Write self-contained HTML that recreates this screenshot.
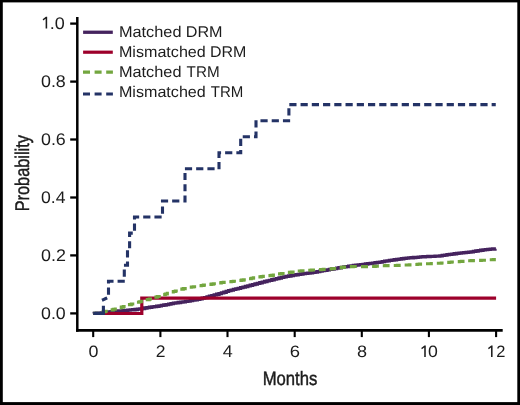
<!DOCTYPE html>
<html>
<head>
<meta charset="utf-8">
<title>Chart</title>
<style>
html,body{margin:0;padding:0;background:#000;}
body{width:520px;height:405px;overflow:hidden;font-family:"Liberation Sans",sans-serif;}
svg{display:block;will-change:transform;}
text{font-family:"Liberation Sans",sans-serif;fill:#1c1c1c;text-rendering:geometricPrecision;}
</style>
</head>
<body>
<svg width="520" height="405" viewBox="0 0 520 405">
  <rect x="0" y="0" width="520" height="405" fill="#000"/>
  <rect x="2.8" y="2.4" width="514.5" height="399.7" fill="#fff"/>

  <g fill="none" stroke-width="3.1" stroke-linejoin="miter">
    <path stroke="#45235e" stroke-width="3.3" d="M93.20,313.40 L94.20,313.40 L94.20,313.36 L96.60,313.36 L96.60,313.25 L99.00,313.25 L99.00,313.14 L101.40,313.14 L101.40,312.93 L103.80,312.93 L103.80,312.64 L106.20,312.64 L106.20,312.33 L108.60,312.33 L108.60,312.00 L111.00,312.00 L111.00,311.67 L113.40,311.67 L113.40,311.42 L115.80,311.42 L115.80,311.20 L118.20,311.20 L118.20,310.99 L120.60,310.99 L120.60,310.83 L123.00,310.83 L123.00,310.67 L125.40,310.67 L125.40,310.46 L127.80,310.46 L127.80,310.21 L130.20,310.21 L130.20,309.97 L132.60,309.97 L132.60,309.73 L135.00,309.73 L135.00,309.48 L137.40,309.48 L137.40,309.19 L139.80,309.19 L139.80,308.88 L142.20,308.88 L142.20,308.53 L144.60,308.53 L144.60,308.01 L147.00,308.01 L147.00,307.57 L149.40,307.57 L149.40,307.25 L151.80,307.25 L151.80,306.93 L154.20,306.93 L154.20,306.59 L156.60,306.59 L156.60,306.24 L159.00,306.24 L159.00,305.90 L161.40,305.90 L161.40,305.46 L163.80,305.46 L163.80,305.02 L166.20,305.02 L166.20,304.56 L168.60,304.56 L168.60,304.08 L171.00,304.08 L171.00,303.60 L173.40,303.60 L173.40,303.20 L175.80,303.20 L175.80,302.84 L178.20,302.84 L178.20,302.49 L180.60,302.49 L180.60,302.14 L183.00,302.14 L183.00,301.79 L185.40,301.79 L185.40,301.43 L187.80,301.43 L187.80,301.03 L190.20,301.03 L190.20,300.62 L192.60,300.62 L192.60,300.21 L195.00,300.21 L195.00,299.81 L197.40,299.81 L197.40,299.40 L199.80,299.40 L199.80,298.83 L202.20,298.83 L202.20,298.21 L204.60,298.21 L204.60,297.55 L207.00,297.55 L207.00,296.87 L209.40,296.87 L209.40,296.20 L211.80,296.20 L211.80,295.55 L214.20,295.55 L214.20,294.89 L216.60,294.89 L216.60,294.23 L219.00,294.23 L219.00,293.57 L221.40,293.57 L221.40,292.91 L223.80,292.91 L223.80,292.25 L226.20,292.25 L226.20,291.43 L228.60,291.43 L228.60,290.65 L231.00,290.65 L231.00,290.06 L233.40,290.06 L233.40,289.47 L235.80,289.47 L235.80,288.88 L238.20,288.88 L238.20,288.29 L240.60,288.29 L240.60,287.70 L243.00,287.70 L243.00,287.09 L245.40,287.09 L245.40,286.48 L247.80,286.48 L247.80,285.86 L250.20,285.86 L250.20,285.25 L252.60,285.25 L252.60,284.62 L255.00,284.62 L255.00,283.99 L257.40,283.99 L257.40,283.36 L259.80,283.36 L259.80,282.74 L262.20,282.74 L262.20,282.11 L264.60,282.11 L264.60,281.51 L267.00,281.51 L267.00,280.92 L269.40,280.92 L269.40,280.32 L271.80,280.32 L271.80,279.73 L274.20,279.73 L274.20,279.14 L276.60,279.14 L276.60,278.56 L279.00,278.56 L279.00,278.01 L281.40,278.01 L281.40,277.45 L283.80,277.45 L283.80,276.94 L286.20,276.94 L286.20,276.46 L288.60,276.46 L288.60,275.98 L291.00,275.98 L291.00,275.56 L293.40,275.56 L293.40,275.16 L295.80,275.16 L295.80,274.75 L298.20,274.75 L298.20,274.38 L300.60,274.38 L300.60,274.02 L303.00,274.02 L303.00,273.68 L305.40,273.68 L305.40,273.38 L307.80,273.38 L307.80,273.09 L310.20,273.09 L310.20,272.74 L312.60,272.74 L312.60,272.37 L315.00,272.37 L315.00,272.00 L317.40,272.00 L317.40,271.56 L319.80,271.56 L319.80,271.11 L322.20,271.11 L322.20,270.68 L324.60,270.68 L324.60,270.28 L327.00,270.28 L327.00,269.87 L329.40,269.87 L329.40,269.44 L331.80,269.44 L331.80,269.00 L334.20,269.00 L334.20,268.56 L336.60,268.56 L336.60,268.14 L339.00,268.14 L339.00,267.74 L341.40,267.74 L341.40,267.34 L343.80,267.34 L343.80,266.97 L346.20,266.97 L346.20,266.60 L348.60,266.60 L348.60,266.23 L351.00,266.23 L351.00,265.86 L353.40,265.86 L353.40,265.49 L355.80,265.49 L355.80,265.18 L358.20,265.18 L358.20,264.88 L360.60,264.88 L360.60,264.59 L363.00,264.59 L363.00,264.29 L365.40,264.29 L365.40,264.00 L367.80,264.00 L367.80,263.70 L370.20,263.70 L370.20,263.41 L372.60,263.41 L372.60,263.11 L375.00,263.11 L375.00,262.77 L377.40,262.77 L377.40,262.40 L379.80,262.40 L379.80,262.03 L382.20,262.03 L382.20,261.63 L384.60,261.63 L384.60,261.22 L387.00,261.22 L387.00,260.82 L389.40,260.82 L389.40,260.45 L391.80,260.45 L391.80,260.08 L394.20,260.08 L394.20,259.73 L396.60,259.73 L396.60,259.40 L399.00,259.40 L399.00,259.07 L401.40,259.07 L401.40,258.77 L403.80,258.77 L403.80,258.47 L406.20,258.47 L406.20,258.18 L408.60,258.18 L408.60,257.96 L411.00,257.96 L411.00,257.74 L413.40,257.74 L413.40,257.52 L415.80,257.52 L415.80,257.30 L418.20,257.30 L418.20,257.07 L420.60,257.07 L420.60,256.90 L423.00,256.90 L423.00,256.75 L425.40,256.75 L425.40,256.61 L427.80,256.61 L427.80,256.49 L430.20,256.49 L430.20,256.38 L432.60,256.38 L432.60,256.28 L435.00,256.28 L435.00,256.20 L437.40,256.20 L437.40,256.13 L439.80,256.13 L439.80,255.85 L442.20,255.85 L442.20,255.46 L444.60,255.46 L444.60,255.07 L447.00,255.07 L447.00,254.72 L449.40,254.72 L449.40,254.39 L451.80,254.39 L451.80,254.06 L454.20,254.06 L454.20,253.73 L456.60,253.73 L456.60,253.39 L459.00,253.39 L459.00,253.09 L461.40,253.09 L461.40,252.83 L463.80,252.83 L463.80,252.58 L466.20,252.58 L466.20,252.32 L468.60,252.32 L468.60,252.06 L471.00,252.06 L471.00,251.80 L473.40,251.80 L473.40,251.39 L475.80,251.39 L475.80,250.98 L478.20,250.98 L478.20,250.57 L480.60,250.57 L480.60,250.25 L483.00,250.25 L483.00,249.93 L485.40,249.93 L485.40,249.66 L487.80,249.66 L487.80,249.42 L490.20,249.42 L490.20,249.18 L492.60,249.18 L492.60,248.98 L495.00,248.98 L495.00,248.78 L495.90,248.78"/>
    <path stroke="#9d002b" stroke-width="3.2" d="M93.2,313.5 L141.8,313.5 L141.8,298.1 L496.1,298.1"/>
    <path stroke="#73a63f" stroke-linecap="square" stroke-dasharray="3.9 7.4" stroke-dashoffset="1.8" d="M94.80,313.30 L95.30,313.30 L95.30,313.22 L97.30,313.22 L97.30,312.84 L99.30,312.84 L99.30,312.44 L101.30,312.44 L101.30,312.06 L103.30,312.06 L103.30,311.69 L105.30,311.69 L105.30,311.32 L107.30,311.32 L107.30,310.92 L109.30,310.92 L109.30,310.39 L111.30,310.39 L111.30,309.85 L113.30,309.85 L113.30,309.32 L115.30,309.32 L115.30,308.78 L117.30,308.78 L117.30,308.22 L119.30,308.22 L119.30,307.67 L121.30,307.67 L121.30,307.11 L123.30,307.11 L123.30,306.56 L125.30,306.56 L125.30,305.91 L127.30,305.91 L127.30,305.25 L129.30,305.25 L129.30,304.59 L131.30,304.59 L131.30,303.93 L133.30,303.93 L133.30,303.36 L135.30,303.36 L135.30,302.83 L137.30,302.83 L137.30,302.30 L139.30,302.30 L139.30,301.77 L141.30,301.77 L141.30,301.23 L143.30,301.23 L143.30,300.68 L145.30,300.68 L145.30,300.13 L147.30,300.13 L147.30,299.58 L149.30,299.58 L149.30,299.03 L151.30,299.03 L151.30,298.40 L153.30,298.40 L153.30,297.78 L155.30,297.78 L155.30,297.15 L157.30,297.15 L157.30,296.52 L159.30,296.52 L159.30,295.89 L161.30,295.89 L161.30,295.25 L163.30,295.25 L163.30,294.62 L165.30,294.62 L165.30,293.98 L167.30,293.98 L167.30,293.36 L169.30,293.36 L169.30,292.75 L171.30,292.75 L171.30,292.14 L173.30,292.14 L173.30,291.54 L175.30,291.54 L175.30,290.93 L177.30,290.93 L177.30,290.34 L179.30,290.34 L179.30,289.75 L181.30,289.75 L181.30,289.16 L183.30,289.16 L183.30,288.58 L185.30,288.58 L185.30,288.14 L187.30,288.14 L187.30,287.78 L189.30,287.78 L189.30,287.41 L191.30,287.41 L191.30,287.05 L193.30,287.05 L193.30,286.68 L195.30,286.68 L195.30,286.38 L197.30,286.38 L197.30,286.07 L199.30,286.07 L199.30,285.77 L201.30,285.77 L201.30,285.46 L203.30,285.46 L203.30,285.16 L205.30,285.16 L205.30,284.89 L207.30,284.89 L207.30,284.62 L209.30,284.62 L209.30,284.35 L211.30,284.35 L211.30,284.08 L213.30,284.08 L213.30,283.81 L215.30,283.81 L215.30,283.50 L217.30,283.50 L217.30,283.18 L219.30,283.18 L219.30,282.87 L221.30,282.87 L221.30,282.57 L223.30,282.57 L223.30,282.34 L225.30,282.34 L225.30,282.12 L227.30,282.12 L227.30,281.91 L229.30,281.91 L229.30,281.69 L231.30,281.69 L231.30,281.48 L233.30,281.48 L233.30,281.26 L235.30,281.26 L235.30,280.98 L237.30,280.98 L237.30,280.71 L239.30,280.71 L239.30,280.43 L241.30,280.43 L241.30,280.15 L243.30,280.15 L243.30,279.84 L245.30,279.84 L245.30,279.47 L247.30,279.47 L247.30,279.11 L249.30,279.11 L249.30,278.74 L251.30,278.74 L251.30,278.30 L253.30,278.30 L253.30,277.90 L255.30,277.90 L255.30,277.55 L257.30,277.55 L257.30,277.21 L259.30,277.21 L259.30,276.86 L261.30,276.86 L261.30,276.52 L263.30,276.52 L263.30,276.25 L265.30,276.25 L265.30,276.03 L267.30,276.03 L267.30,275.81 L269.30,275.81 L269.30,275.58 L271.30,275.58 L271.30,275.36 L273.30,275.36 L273.30,275.08 L275.30,275.08 L275.30,274.67 L277.30,274.67 L277.30,274.26 L279.30,274.26 L279.30,273.85 L281.30,273.85 L281.30,273.44 L283.30,273.44 L283.30,273.17 L285.30,273.17 L285.30,272.92 L287.30,272.92 L287.30,272.67 L289.30,272.67 L289.30,272.42 L291.30,272.42 L291.30,272.16 L293.30,272.16 L293.30,271.88 L295.30,271.88 L295.30,271.59 L297.30,271.59 L297.30,271.30 L299.30,271.30 L299.30,271.00 L301.30,271.00 L301.30,270.77 L303.30,270.77 L303.30,270.58 L305.30,270.58 L305.30,270.45 L307.30,270.45 L307.30,270.31 L309.30,270.31 L309.30,270.18 L311.30,270.18 L311.30,270.05 L313.30,270.05 L313.30,269.93 L315.30,269.93 L315.30,269.81 L317.30,269.81 L317.30,269.70 L319.30,269.70 L319.30,269.58 L321.30,269.58 L321.30,269.47 L323.30,269.47 L323.30,269.34 L325.30,269.34 L325.30,269.19 L327.30,269.19 L327.30,269.03 L329.30,269.03 L329.30,268.88 L331.30,268.88 L331.30,268.73 L333.30,268.73 L333.30,268.56 L335.30,268.56 L335.30,268.26 L337.30,268.26 L337.30,267.97 L339.30,267.97 L339.30,267.68 L341.30,267.68 L341.30,267.39 L343.30,267.39 L343.30,267.15 L345.30,267.15 L345.30,267.01 L347.30,267.01 L347.30,266.87 L349.30,266.87 L349.30,266.73 L351.30,266.73 L351.30,266.59 L353.30,266.59 L353.30,266.53 L355.30,266.53 L355.30,266.60 L357.30,266.60 L359.30,266.60 L361.30,266.60 L363.30,266.60 L365.30,266.60 L365.30,266.59 L367.30,266.59 L367.30,266.53 L369.30,266.53 L369.30,266.48 L371.30,266.48 L371.30,266.42 L373.30,266.42 L373.30,266.36 L375.30,266.36 L375.30,266.31 L377.30,266.31 L377.30,266.18 L379.30,266.18 L379.30,266.05 L381.30,266.05 L381.30,265.91 L383.30,265.91 L383.30,265.78 L385.30,265.78 L385.30,265.65 L387.30,265.65 L387.30,265.58 L389.30,265.58 L389.30,265.54 L391.30,265.54 L391.30,265.50 L393.30,265.50 L393.30,265.47 L395.30,265.47 L395.30,265.43 L397.30,265.43 L397.30,265.39 L399.30,265.39 L399.30,265.30 L401.30,265.30 L401.30,265.22 L403.30,265.22 L403.30,265.14 L405.30,265.14 L405.30,265.05 L407.30,265.05 L407.30,264.97 L409.30,264.97 L409.30,264.88 L411.30,264.88 L411.30,264.73 L413.30,264.73 L413.30,264.58 L415.30,264.58 L415.30,264.43 L417.30,264.43 L417.30,264.28 L419.30,264.28 L419.30,264.16 L421.30,264.16 L421.30,264.06 L423.30,264.06 L423.30,263.97 L425.30,263.97 L425.30,263.87 L427.30,263.87 L427.30,263.78 L429.30,263.78 L429.30,263.69 L431.30,263.69 L431.30,263.60 L433.30,263.60 L433.30,263.50 L435.30,263.50 L435.30,263.41 L437.30,263.41 L437.30,263.32 L439.30,263.32 L439.30,263.23 L441.30,263.23 L441.30,263.06 L443.30,263.06 L443.30,262.84 L445.30,262.84 L445.30,262.62 L447.30,262.62 L447.30,262.40 L449.30,262.40 L449.30,262.18 L451.30,262.18 L451.30,262.02 L453.30,262.02 L453.30,261.90 L455.30,261.90 L455.30,261.78 L457.30,261.78 L457.30,261.66 L459.30,261.66 L459.30,261.53 L461.30,261.53 L461.30,261.41 L463.30,261.41 L463.30,261.25 L465.30,261.25 L465.30,261.08 L467.30,261.08 L467.30,260.91 L469.30,260.91 L469.30,260.74 L471.30,260.74 L471.30,260.59 L473.30,260.59 L473.30,260.53 L475.30,260.53 L475.30,260.48 L477.30,260.48 L477.30,260.42 L479.30,260.42 L479.30,260.36 L481.30,260.36 L481.30,260.31 L483.30,260.31 L483.30,260.23 L485.30,260.23 L485.30,260.16 L487.30,260.16 L487.30,260.08 L489.30,260.08 L489.30,259.91 L491.30,259.91 L491.30,259.74 L493.30,259.74 L493.30,259.58 L494.30,259.58"/>
    <path stroke="#243366" d="M93.2,313.4 L103.4,313.4 L103.4,305.7"/>
    <path stroke="#243366" stroke-linecap="square" stroke-dasharray="4.1 7.14" stroke-dashoffset="1.5" d="M103.4,299.6 L108.5,297.3 L108.5,281.3 L124.3,281.3 L124.3,265.2 L127.5,265.2 L127.5,249.2 L129.6,249.2 L129.6,233.1 L134.5,233.1 L134.5,217.0 L162.5,217.0 L162.5,201.0 L185.0,201.0 L185.0,168.8 L219.0,168.8 L219.0,152.8 L240.7,152.8 L240.7,136.7 L256.0,136.7 L256.0,120.7 L288.9,120.7 L288.9,104.6 L494.2,104.6"/>
  </g>
  <g stroke="#000" fill="none">
    <path stroke-width="2.5" d="M77.3,17.1 V331.7"/>
    <path stroke-width="2.7" d="M76.05,330.4 H502.7"/>
    <g stroke-width="2.3">
      <path d="M70.2,23.6 H77"/>
      <path d="M70.2,81.6 H77"/>
      <path d="M70.2,139.5 H77"/>
      <path d="M70.2,197.5 H77"/>
      <path d="M70.2,255.4 H77"/>
      <path d="M70.2,313.4 H77"/>
    </g>
    <g stroke-width="2.1">
      <path d="M93.2,330 V337.1"/>
      <path d="M160.4,330 V337.1"/>
      <path d="M227.5,330 V337.1"/>
      <path d="M294.7,330 V337.1"/>
      <path d="M361.8,330 V337.1"/>
      <path d="M428.9,330 V337.1"/>
      <path d="M496.1,330 V337.1"/>
    </g>
  </g>
  <g>
    <path fill="#1c1c1c" d="M45.62,28.55 L47.17,28.55 L47.17,16.75 L45.88,16.75 L42.65,19.30 L43.30,20.50 L45.62,18.70 Z"/>
    <text transform="translate(49.68,28.83) scale(1.0658,1)" font-size="16.90">.0</text>
    <text transform="translate(40.99,86.79) scale(1.0564,1)" font-size="16.90">0.8</text>
    <text transform="translate(40.99,144.75) scale(1.0564,1)" font-size="16.90">0.6</text>
    <text transform="translate(40.99,202.71) scale(1.0444,1)" font-size="16.90">0.4</text>
    <text transform="translate(40.98,260.67) scale(1.0604,1)" font-size="16.90">0.2</text>
    <text transform="translate(40.99,318.63) scale(1.0524,1)" font-size="16.90">0.0</text>
  </g>
  <g>
    <text transform="translate(88.43,357.04) scale(1.0859,1)" font-size="16.48">0</text>
    <text transform="translate(155.67,357.20) scale(1.0519,1)" font-size="16.71">2</text>
    <text transform="translate(222.75,357.20) scale(1.0615,1)" font-size="16.96">4</text>
    <text transform="translate(289.68,357.04) scale(1.1213,1)" font-size="16.48">6</text>
    <text transform="translate(356.94,357.04) scale(1.0975,1)" font-size="16.48">8</text>
    <path fill="#1c1c1c" d="M424.23,357.05 L425.77,357.05 L425.77,345.55 L424.48,345.55 L421.25,348.10 L421.90,349.30 L424.23,347.50 Z"/>
    <text transform="translate(427.99,357.04) scale(1.0731,1)" font-size="16.48">0</text>
    <path fill="#1c1c1c" d="M491.03,357.05 L492.57,357.05 L492.57,345.55 L491.28,345.55 L488.05,348.10 L488.70,349.30 L491.03,347.50 Z"/>
    <text transform="translate(496.18,357.10) scale(0.9947,1)" font-size="16.57">2</text>
  </g>
  <g stroke="#1c1c1c" stroke-width="0.45">
  <text transform="translate(262.67,385.31) scale(0.8632,1)" font-size="19.32">Months</text>
  <text transform="translate(29.14,211.31) rotate(-90) scale(0.8245,1)" font-size="19.79">Probability</text>
  </g>
  <g fill="none" stroke-width="3.2">
    <path stroke="#45235e" stroke-width="3.3" d="M83.1,32.25 H112.8"/>
    <path stroke="#9d002b" d="M83.1,52.2 H112.8"/>
    <path stroke="#73a63f" stroke-dasharray="7 4.6" d="M83,72.2 H112.9"/>
    <path stroke="#243366" stroke-dasharray="7 4.6" d="M83,94.0 H112.9"/>
  </g>
  <g>
    <text transform="translate(118.89,36.59) scale(1.0473,1)" font-size="15.58">Matched</text>
    <text transform="translate(185.71,36.60) scale(1.0428,1)" font-size="15.51">DRM</text>
    <text transform="translate(118.91,56.89) scale(1.0342,1)" font-size="15.58">Mismatched</text>
    <text transform="translate(209.92,56.90) scale(1.0306,1)" font-size="15.51">DRM</text>
    <text transform="translate(118.89,76.69) scale(1.0473,1)" font-size="15.58">Matched</text>
    <text transform="translate(186.62,76.70) scale(0.9829,1)" font-size="15.51">TRM</text>
    <text transform="translate(118.91,96.89) scale(1.0342,1)" font-size="15.58">Mismatched</text>
    <text transform="translate(210.82,96.90) scale(0.9704,1)" font-size="15.51">TRM</text>
  </g>
</svg>
</body>
</html>
